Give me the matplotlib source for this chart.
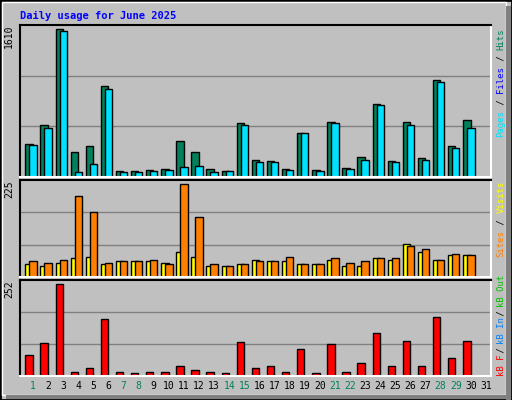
import matplotlib
matplotlib.use('Agg')
import matplotlib.pyplot as plt
from matplotlib.patches import Rectangle

days = list(range(1, 32))
hits = [354, 546, 1569, 269, 333, 962, 66, 66, 77, 87, 386, 269, 87, 66, 567, 183,
        173, 87, 471, 77, 578, 98, 215, 770, 173, 578, 205, 1026, 333, 599, 0]
files = [343, 514, 1548, 55, 141, 930, 55, 55, 66, 77, 109, 119, 55, 66, 556, 162,
         162, 77, 461, 66, 567, 87, 183, 759, 162, 556, 183, 1004, 311, 514, 0]
visits = [29, 26, 33, 43, 47, 31, 38, 38, 38, 33, 57, 47, 26, 26, 29, 40,
          36, 38, 29, 31, 40, 26, 26, 43, 40, 76, 57, 40, 50, 50, 0]
sites = [38, 33, 40, 188, 150, 33, 36, 38, 40, 31, 216, 139, 29, 26, 29, 38,
         38, 47, 31, 31, 45, 33, 36, 43, 43, 73, 66, 40, 54, 50, 0]
kbytes = [54, 86, 242, 11, 22, 149, 11, 9, 11, 11, 25, 17, 11, 9, 88, 22,
          27, 11, 72, 9, 83, 11, 33, 112, 25, 91, 27, 155, 46, 91, 0]
weekend = [1, 7, 8, 14, 15, 21, 22, 28, 29]
max_hits, max_visits, max_kb = 1610, 225, 252

W, H = 512, 400
fig = plt.figure(figsize=(W / 100, H / 100), dpi=100)
fig.patch.set_facecolor('#c0c0c0')
mono = 'DejaVu Sans Mono'

def px(x0, y0, w, h):
    return [x0 / W, 1 - (y0 + h) / H, w / W, h / H]

# outer 3d frame
fig.add_artist(Rectangle((0, 0), 1, 1, transform=fig.transFigure, fill=False, ec='black', lw=2))
fig.add_artist(Rectangle((2 / W, 5 / H), (W - 8) / W, (H - 7) / H, transform=fig.transFigure,
                         fill=False, ec='white', lw=1))
fig.add_artist(Rectangle(((W - 6) / W, 0), 5 / W, 1 - 6 / H, transform=fig.transFigure,
                         color='#808080', lw=0))
fig.add_artist(Rectangle((6 / W, 1 / H), (W - 7) / W, 4 / H, transform=fig.transFigure,
                         color='#808080', lw=0))

fig.text(20 / W, 1 - 16 / H, 'Daily usage for June 2025', color='#0000ff', fontsize=7.5,
         fontweight='bold', family=mono, va='center')

lo = 0.137

def panel(rect, top):
    ax = fig.add_axes(px(*rect))
    ax.set_facecolor('#c0c0c0')
    ax.set_xlim(lo, lo + 31.2)
    ax.set_ylim(0, top)
    for f in (1 / 3, 2 / 3):
        ax.axhline(top * f, color='#808080', lw=1, zorder=0)
    ax.set_xticks([])
    ax.set_yticks([])
    for s in ('top', 'left'):
        ax.spines[s].set_color('black')
    for s in ('bottom', 'right'):
        ax.spines[s].set_color('white')
    for s in ax.spines.values():
        s.set_linewidth(1.5)
    ax.text(-0.013, 1, str(top), transform=ax.transAxes, rotation=90, ha='right', va='top',
            fontsize=7, family=mono)
    return ax

x_a = [d - 0.51 for d in days]
x_b = [d - 0.245 for d in days]
bw = 0.49

ax1 = panel((20, 25, 471, 152), max_hits)
ax1.bar(x_a, hits, width=bw, align='edge', color='#00805c', ec='black', lw=1)
ax1.bar(x_b, files, width=bw, align='edge', color='#00e0ff', ec='black', lw=1)

ax2 = panel((20, 180, 471, 97), max_visits)
ax2.bar(x_a, visits, width=bw, align='edge', color='#ffff00', ec='black', lw=1)
ax2.bar(x_b, sites, width=bw, align='edge', color='#ff8000', ec='black', lw=1)

ax3 = panel((20, 280, 471, 96), max_kb)
ax3.bar(x_a, kbytes, width=bw, align='edge', color='#ff0000', ec='black', lw=1)

for d in days:
    ax3.text(d, -0.1, str(d), transform=ax3.get_xaxis_transform(), ha='center', va='center',
             fontsize=7, family=mono, color='#00805c' if d in weekend else 'black')

def side_label(y_bottom, step, chunks):
    c = 0
    for txt, col in chunks:
        fig.text(501 / W, 1 - (y_bottom - c * step) / H, txt, color=col, rotation=90,
                 rotation_mode='anchor', ha='left', va='center', fontsize=6.5, family=mono)
        c += len(txt)

side_label(137, 5.45, [('Pages', '#00e0ff'), (' / ', 'black'), ('Files', '#0000ff'),
                       (' / ', 'black'), ('Hits', '#00805c')])
side_label(257, 5.45, [('Sites', '#ff8000'), (' / ', 'black'), ('Visits', '#ffff00')])
side_label(376, 4.6, [('kB F', '#ff0000'), (' / ', 'black'), ('kB In', '#0080ff'),
                      (' / ', 'black'), ('kB Out', '#00c000')])

fig.savefig('out.png', dpi=100, facecolor=fig.get_facecolor())
